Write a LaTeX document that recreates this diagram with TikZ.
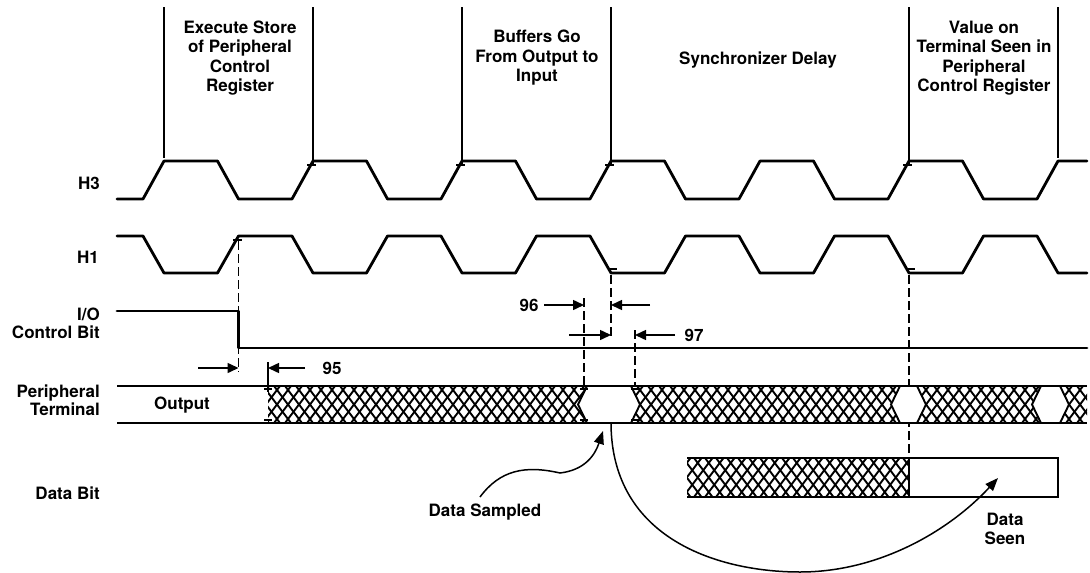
\documentclass[tikz,border=0pt]{standalone}
\usepackage{fontspec}
\setmainfont{TeX Gyre Heros}
\usetikzlibrary{arrows.meta}
\begin{document}
\begin{tikzpicture}[x=1pt,y=-1pt,
  wave/.style={line width=2.8pt, line join=round, line cap=round},
  busline/.style={line width=2.8pt},
  marker/.style={line width=1.3pt},
  dline/.style={line width=1.5pt, dash pattern=on 9pt off 4pt},
  dim/.style={line width=1.5pt, -{Triangle[length=11pt,width=10pt]}},
  curvearrow/.style={line width=1.5pt, -{Triangle[length=13pt,width=10pt]}},
  lbl/.style={font=\fontsize{17}{19.5}\selectfont\bfseries, align=center, inner sep=0pt},
  side/.style={font=\fontsize{17}{18}\selectfont\bfseries, align=right, anchor=east, inner sep=0pt},
  num/.style={font=\fontsize{17}{19}\selectfont\bfseries, inner sep=0pt},
  hatchline/.style={line width=1.9pt},
  tickmark/.style={line width=1.5pt},
  hexfill/.style={fill=white, draw=none}
]
\useasboundingbox (0,0) rectangle (1090,573);

% ---------- top labels ----------
\node[lbl] (l1) at (240,58) {Execute Store\\of Peripheral\\Control\\Register};
\node[lbl] (l2) at (537,58) {Buffers Go\\From Output to\\Input};
\node[lbl] (l3) at (758,60) {Synchronizer Delay};
\node[lbl] (l4) at (984,58) {Value on\\Terminal Seen in\\Peripheral\\Control Register};

% ---------- side labels ----------
\node[side] (h3) at (100,183) {H3};
\node[side] (h1) at (99,257) {H1};
\node[side] (io) at (100,323) {I/O\\Control Bit};
\node[side] (pt) at (100,400) {Peripheral\\Terminal};
\node[side] (db) at (100,493) {Data Bit};

% ---------- vertical markers ----------
\foreach \x/\yb in {164/158, 313/165, 462/165, 611/165, 909/165, 1058/158}
  \draw[marker] (\x,7) -- (\x,\yb);

% ---------- H3 ----------
\draw[wave] (117,199) -- (143,199) -- (164,161) -- (217.5,161) -- (238.5,199) -- (292,199) -- (313,161) -- (366.5,161) -- (387.5,199) -- (441,199) -- (462,161) -- (515.5,161) -- (536.5,199) -- (590,199) -- (611,161) -- (664.5,161) -- (685.5,199) -- (739,199) -- (760,161) -- (813.5,161) -- (834.5,199) -- (888,199) -- (909,161) -- (962.5,161) -- (983.5,199) -- (1037,199) -- (1058,161) -- (1087,161);

% ---------- H1 ----------
\draw[wave] (117,236) -- (143,236) -- (164,273) -- (217.5,273) -- (238.5,236) -- (292,236) -- (313,273) -- (366.5,273) -- (387.5,236) -- (441,236) -- (462,273) -- (515.5,273) -- (536.5,236) -- (590,236) -- (611,273) -- (664.5,273) -- (685.5,236) -- (739,236) -- (760,273) -- (813.5,273) -- (834.5,236) -- (888,236) -- (909,273) -- (962.5,273) -- (983.5,236) -- (1037,236) -- (1058,273) -- (1087,273);

% tick marks on clocks
\foreach \x in {313,462,611,909}
  \draw[tickmark] (\x-6,165) -- (\x+3,165);
\draw[tickmark] (233,240) -- (242,240);
\foreach \x in {611,909}
  \draw[tickmark] (\x-3,269) -- (\x+6,269);

% ---------- dashed lines ----------
\draw[dline] (238.5,241) -- (238.5,372);
\draw[dline] (584,298) -- (584,386);
\draw[dline] (611,275) -- (611,338);
\draw[dline] (635,330) -- (635,386);
\draw[dline] (909,275) -- (909,458);

% ---------- I/O control bit ----------
\draw[wave] (117,311) -- (238.5,311) -- (238.5,348) -- (1087,348);

% ---------- timing dimensions ----------
\coordinate (a95l) at (198,368);  \coordinate (a95lt) at (238.5,368);
\coordinate (a95r) at (305,368);  \coordinate (a95rt) at (268,368);
\draw[dim] (a95l) -- (a95lt);
\draw[dim] (a95r) -- (a95rt);
\draw[marker] (268,362) -- (268,392);
\node[num] (n95) at (332,368) {95};

\coordinate (a96l) at (544,305);  \coordinate (a96lt) at (584,305);
\coordinate (a96r) at (650,305);  \coordinate (a96rt) at (611,305);
\draw[dim] (a96l) -- (a96lt);
\draw[dim] (a96r) -- (a96rt);
\node[num] (n96) at (529,305) {96};

\coordinate (a97l) at (569,335);  \coordinate (a97lt) at (611,335);
\coordinate (a97r) at (675,335);  \coordinate (a97rt) at (635,335);
\draw[dim] (a97l) -- (a97lt);
\draw[dim] (a97r) -- (a97rt);
\node[num] (n97) at (694,335) {97};

% ---------- peripheral terminal bus ----------
\begin{scope}
  \clip (268,386) rectangle (1087,423);
  \foreach \i in {230,241,...,1100} {
    \draw[hatchline] (\i,423) -- ++(28,-37);
    \draw[hatchline] (\i,386) -- ++(28,37);
  }
\end{scope}
% transition hexagons
\fill[hexfill] (578,404.5) -- (587,386) -- (631,386) -- (640,404.5) -- (631,423) -- (587,423) -- cycle;
\draw[hatchline] (587,386) -- (578,404.5) -- (587,423);
\draw[hatchline] (631,386) -- (640,404.5) -- (631,423);
\fill[hexfill] (891,404.5) -- (900,386) -- (917,386) -- (926,404.5) -- (917,423) -- (900,423) -- cycle;
\draw[hatchline] (900,386) -- (891,404.5) -- (900,423);
\draw[hatchline] (917,386) -- (926,404.5) -- (917,423);
\fill[hexfill] (1032,404.5) -- (1041,386) -- (1060,386) -- (1069,404.5) -- (1060,423) -- (1041,423) -- cycle;
\draw[hatchline] (1041,386) -- (1032,404.5) -- (1041,423);
\draw[hatchline] (1060,386) -- (1069,404.5) -- (1060,423);
% corner ticks
\foreach \x in {268,584,635} {
  \draw[tickmark] (\x-4,389) -- (\x+4,389);
  \draw[tickmark] (\x-4,420) -- (\x+4,420);
}
\draw[busline] (117,386) -- (1087,386);
\draw[busline] (117,423) -- (1087,423);
\node[num] (out) at (182,405) {Output};

% ---------- data bit ----------
\begin{scope}
  \clip (687,458) rectangle (909,497);
  \foreach \i in {650,661,...,930} {
    \draw[hatchline] (\i,497) -- ++(29.5,-39);
    \draw[hatchline] (\i,458) -- ++(29.5,39);
  }
\end{scope}
\draw[busline] (687,458) -- (1058,458) -- (1058,497) -- (687,497);
\draw[marker] (909,458) -- (909,497);

% ---------- annotations ----------
\node[num] (ds) at (485,512) {Data Sampled};
\node[lbl] (dseen) at (1005,529) {Data\\Seen};
\coordinate (dsstart) at (480,497);
\coordinate (dsend) at (603,431);
\draw[curvearrow] (dsstart) .. controls (500,470) and (525,465) .. (560,473) .. controls (585,470) and (595,455) .. (dsend);
\coordinate (smp) at (611,424);
\coordinate (seen) at (998,478);
\draw[curvearrow] (smp) .. controls (612,540) and (720,572) .. (800,572) .. controls (880,572) and (950,530) .. (seen);

\end{tikzpicture}
\end{document}
